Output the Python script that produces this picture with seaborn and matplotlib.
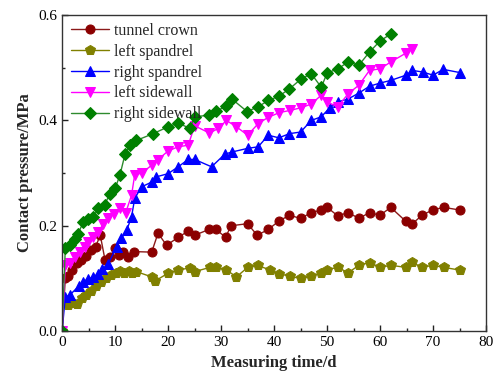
import matplotlib
matplotlib.use("Agg")
import matplotlib.pyplot as plt
import seaborn as sns
import pandas as pd
from matplotlib.ticker import MultipleLocator

crown_x = [0, 0.6, 1.1, 1.9, 2.8, 3.6, 4.5, 5.5, 6.3, 7.2, 8.1, 9.0, 10.0, 10.8, 11.5, 12.5, 13.6, 16.9, 18.1, 19.7,
           21.9, 23.8, 25.0, 27.7, 29.0, 30.9, 31.8, 35.0, 36.8, 38.9, 40.9, 42.9, 45.0, 47.0, 48.9, 50.0, 52.0, 54.0,
           56.0, 58.0, 60.0, 62.0, 64.8, 66.0, 67.9, 69.9, 72.0, 75.0]
crown_y = [0, 0.10, 0.105, 0.116, 0.129, 0.135, 0.142, 0.154, 0.16, 0.182, 0.135, 0.14, 0.157, 0.144, 0.150, 0.140,
           0.151, 0.150, 0.186, 0.163, 0.178, 0.19, 0.182, 0.193, 0.193, 0.178, 0.20, 0.204, 0.182, 0.193, 0.209, 0.22,
           0.214, 0.225, 0.23, 0.235, 0.219, 0.225, 0.214, 0.225, 0.22, 0.235, 0.209, 0.203, 0.22, 0.23, 0.235, 0.23]

lsp_x = [0, 0.3, 1.1, 2.0, 2.8, 3.7, 4.6, 5.5, 6.4, 7.4, 8.2, 9.2, 10.1, 11.0, 11.6, 12.6, 13.2, 14.0, 16.9, 17.5,
         20.0, 21.9, 24.1, 25.0, 27.9, 29.0, 31.0, 32.9, 35.0, 36.9, 39.2, 41.0, 43.0, 45.0, 47.0, 48.9, 50.0, 52.0,
         54.0, 56.0, 58.0, 60.0, 62.0, 64.9, 66.0, 67.9, 69.9, 72.0, 75.0]
lsp_y = [0, 0.053, 0.05, 0.053, 0.052, 0.062, 0.068, 0.077, 0.085, 0.093, 0.101, 0.107, 0.111, 0.114, 0.111, 0.115,
         0.111, 0.113, 0.103, 0.095, 0.11, 0.116, 0.12, 0.113, 0.121, 0.121, 0.116, 0.103, 0.121, 0.125, 0.116, 0.109,
         0.104, 0.10, 0.104, 0.111, 0.117, 0.121, 0.111, 0.125, 0.13, 0.121, 0.125, 0.121, 0.131, 0.121, 0.125, 0.121,
         0.116]

rsp_x = [0, 0.6, 1.4, 3.1, 4.0, 4.8, 5.8, 6.7, 7.6, 8.7, 10.3, 11.2, 12.2, 13.1, 13.7, 15.0, 16.9, 17.8, 20.0, 21.9,
         23.8, 25.0, 28.2, 30.7, 32.0, 35.0, 37.0, 38.9, 40.9, 42.9, 45.0, 47.0, 48.9, 50.5, 52.0, 54.0, 56.0, 58.0,
         60.0, 62.0, 64.9, 66.1, 68.0, 70.0, 71.9, 75.0]
rsp_y = [0, 0.065, 0.068, 0.085, 0.093, 0.099, 0.102, 0.108, 0.118, 0.128, 0.16, 0.176, 0.192, 0.217, 0.252, 0.274,
         0.283, 0.293, 0.299, 0.312, 0.326, 0.326, 0.312, 0.336, 0.34, 0.347, 0.35, 0.372, 0.367, 0.375, 0.378, 0.40,
         0.407, 0.424, 0.435, 0.441, 0.452, 0.465, 0.471, 0.476, 0.486, 0.495, 0.492, 0.486, 0.497, 0.491]

lsw_x = [0, 0.6, 1.5, 2.4, 3.3, 4.3, 4.8, 5.9, 6.8, 7.8, 8.7, 9.7, 10.9, 12.0, 13.1, 13.7, 15.0, 16.9, 18.0, 20.0,
         21.9, 23.8, 25.0, 27.8, 29.5, 31.0, 32.9, 35.0, 37.0, 38.9, 41.0, 43.0, 45.0, 47.0, 48.9, 50.0, 52.0, 54.0,
         56.0, 58.0, 60.0, 62.0, 64.9, 66.1]
lsw_y = [0, 0.125, 0.13, 0.141, 0.15, 0.16, 0.17, 0.179, 0.188, 0.204, 0.214, 0.223, 0.233, 0.225, 0.258, 0.297,
         0.30, 0.315, 0.325, 0.342, 0.35, 0.353, 0.39, 0.376, 0.385, 0.40, 0.388, 0.372, 0.394, 0.406, 0.415, 0.419,
         0.424, 0.431, 0.448, 0.435, 0.426, 0.451, 0.467, 0.495, 0.498, 0.511, 0.528, 0.536]

rsw_x = [0, 0.6, 1.5, 2.4, 3.0, 4.0, 4.8, 5.9, 6.8, 8.0, 9.0, 10.0, 10.9, 11.9, 12.8, 14.0, 17.2, 20.0, 21.9, 24.1,
         25.0, 27.7, 29.1, 31.0, 32.0, 34.9, 37.0, 38.9, 40.9, 42.9, 45.0, 47.0, 48.9, 50.0, 52.0, 54.0, 56.0, 58.0,
         60.0, 62.0]
rsw_y = [0, 0.157, 0.163, 0.175, 0.185, 0.207, 0.213, 0.217, 0.233, 0.239, 0.261, 0.271, 0.296, 0.337, 0.353, 0.362,
         0.375, 0.388, 0.395, 0.385, 0.407, 0.41, 0.418, 0.427, 0.441, 0.417, 0.426, 0.438, 0.446, 0.46, 0.478, 0.489,
         0.463, 0.49, 0.498, 0.511, 0.505, 0.53, 0.551, 0.564]

series_names = ["tunnel crown", "left spandrel", "right spandrel", "left sidewall", "right sidewall"]
series_x = [crown_x, lsp_x, rsp_x, lsw_x, rsw_x]
series_y = [crown_y, lsp_y, rsp_y, lsw_y, rsw_y]
colors = ["#8B0000", "#808000", "#0000FF", "#FF00FF", "#008000"]
line_colors = ["#8B1A1A", "#808000", "#0000FF", "#FF00FF", "#2E8B2E"]
markers = ["o", "p", "^", "v", "D"]
sizes = [6.5, 7.5, 7, 7, 6]

sns.set_style("ticks")
plt.rcParams["font.family"] = ["Liberation Serif", "DejaVu Serif"]
plt.rcParams["xtick.direction"] = "in"
plt.rcParams["ytick.direction"] = "in"

fig = plt.figure(figsize=(4.93, 3.78), dpi=100)
ax = fig.add_axes([0.126, 0.124, 0.860, 0.836])

for name, xs, ys, c, lc, m, s in zip(series_names, series_x, series_y, colors, line_colors, markers, sizes):
    df = pd.DataFrame({"x": xs, "y": ys})
    sns.lineplot(data=df, x="x", y="y", ax=ax, color=lc, marker=m, markersize=s,
                 markerfacecolor=c, markeredgecolor=c, linewidth=1.0, label=name, sort=False,
                 estimator=None)

ax.set_xlim(0, 80)
ax.set_ylim(0, 0.6)
ax.xaxis.set_major_locator(MultipleLocator(10))
ax.xaxis.set_minor_locator(MultipleLocator(5))
ax.yaxis.set_major_locator(MultipleLocator(0.2))
ax.yaxis.set_minor_locator(MultipleLocator(0.1))
ax.yaxis.set_major_formatter(matplotlib.ticker.FormatStrFormatter("%.1f"))
ax.tick_params(which="major", length=4, width=1, labelsize=11, top=False, right=False, colors="#222222",
               labelcolor="black")
ax.tick_params(which="minor", length=2.5, width=1, top=False, right=False)
for sp in ax.spines.values():
    sp.set_linewidth(1.0)
    sp.set_color("#333333")

ax.set_xlabel("Measuring time/d", fontsize=12, fontweight="bold")
ax.set_ylabel("Contact pressure/MPa", fontsize=12, fontweight="bold")

leg = ax.legend(loc="upper left", frameon=False, fontsize=11.5, handlelength=2.4, handletextpad=0.3,
                labelspacing=0.3, borderaxespad=0.0, bbox_to_anchor=(0.005, 0.995))

fig.savefig("out.png", dpi=100, facecolor="white")
